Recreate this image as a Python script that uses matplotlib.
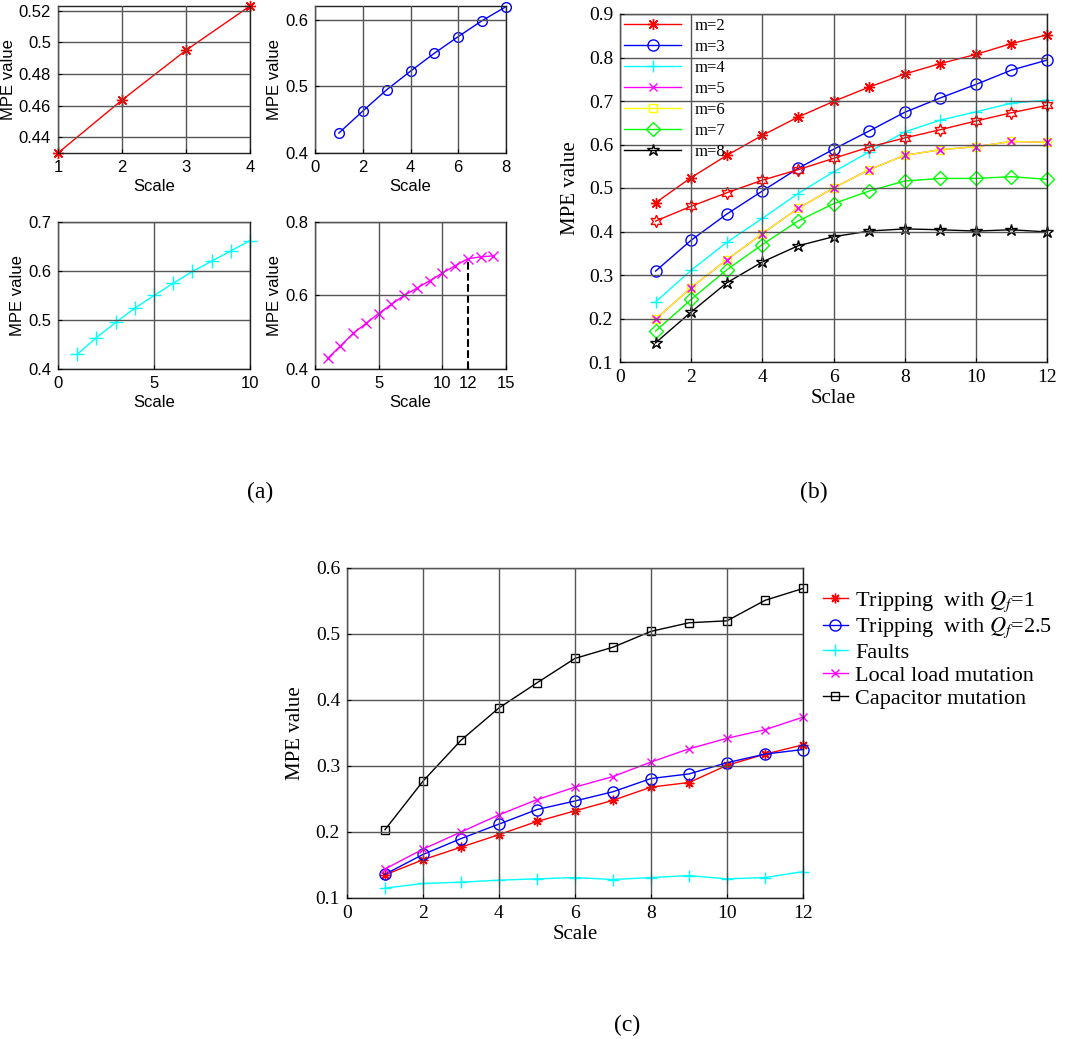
import matplotlib
matplotlib.use("Agg")
import matplotlib.pyplot as plt
from matplotlib.ticker import FuncFormatter

# ---- dados ----
# painel (a)
a1_x = [1, 2, 3, 4]
a1_y = [0.430, 0.4635, 0.495, 0.523]
a2_x = [1, 2, 3, 4, 5, 6, 7, 8]
a2_y = [0.430, 0.463, 0.495, 0.523, 0.550, 0.575, 0.599, 0.620]
a3_x = [1, 2, 3, 4, 5, 6, 7, 8, 9, 10]
a3_y = [0.430, 0.464, 0.495, 0.524, 0.550, 0.575, 0.599, 0.620, 0.641, 0.662]
a4_x = [1, 2, 3, 4, 5, 6, 7, 8, 9, 10, 11, 12, 13, 14]
a4_y = [0.429, 0.463, 0.497, 0.524, 0.551, 0.576, 0.600, 0.620, 0.640,
        0.661, 0.681, 0.700, 0.705, 0.708]
a4_marca = 12

# painel (b)
escala_b = [1, 2, 3, 4, 5, 6, 7, 8, 9, 10, 11, 12]
b_m2 = [0.466, 0.524, 0.575, 0.621, 0.663, 0.699, 0.732, 0.762, 0.786, 0.807, 0.832, 0.852]
b_m3 = [0.309, 0.380, 0.440, 0.493, 0.545, 0.589, 0.631, 0.674, 0.707, 0.738, 0.771, 0.794]
b_m4 = [0.238, 0.311, 0.375, 0.430, 0.487, 0.537, 0.583, 0.629, 0.656, 0.675, 0.695, 0.702]
b_m5 = [0.198, 0.271, 0.335, 0.395, 0.453, 0.500, 0.542, 0.575, 0.588, 0.595, 0.607, 0.605]
b_m6 = [0.198, 0.271, 0.335, 0.395, 0.453, 0.500, 0.542, 0.575, 0.588, 0.595, 0.607, 0.605]
b_m7 = [0.171, 0.244, 0.312, 0.370, 0.424, 0.464, 0.493, 0.516, 0.522, 0.522, 0.526, 0.520]
b_m8 = [0.144, 0.215, 0.282, 0.330, 0.367, 0.388, 0.401, 0.406, 0.404, 0.401, 0.404, 0.399]
b_extra = [0.424, 0.458, 0.489, 0.518, 0.542, 0.568, 0.594, 0.615, 0.634, 0.654, 0.673, 0.690]
rotulos_b = ["m=2", "m=3", "m=4", "m=5", "m=6", "m=7", "m=8"]

# painel (c)
escala_c = [1, 2, 3, 4, 5, 6, 7, 8, 9, 10, 11, 12]
c_trip1 = [0.135, 0.158, 0.177, 0.196, 0.216, 0.232, 0.248, 0.268, 0.275, 0.301, 0.318, 0.332]
c_trip25 = [0.136, 0.166, 0.190, 0.212, 0.234, 0.247, 0.261, 0.281, 0.288, 0.305, 0.318, 0.325]
c_faltas = [0.115, 0.122, 0.124, 0.127, 0.129, 0.131, 0.128, 0.131, 0.134, 0.129, 0.131, 0.140]
c_carga = [0.144, 0.174, 0.200, 0.226, 0.249, 0.268, 0.284, 0.306, 0.326, 0.342, 0.355, 0.374]
c_capac = [0.2035, 0.277, 0.339, 0.388, 0.426, 0.463, 0.480, 0.504, 0.517, 0.520, 0.551, 0.569]
rotulos_c = ["Tripping  with $Q_f$=1", "Tripping  with $Q_f$=2.5", "Faults",
             "Local load mutation", "Capacitor mutation"]

plt.rcParams['mathtext.fontset'] = 'stix'

W, H = 1065, 1039
fig = plt.figure(figsize=(W / 100, H / 100), dpi=100)

SANS = 'Liberation Sans'
SERIF = 'Liberation Serif'
COR_GRADE = '#555555'
VERMELHO, AZUL, CIANO, MAGENTA = '#ff0000', '#0000ff', '#00ffff', '#ff00ff'
AMARELO, VERDE = '#ffff00', '#00ff00'
ASTER = (8, 2, 0)
HEXA = (6, 1, 0)


def eixo(x0, y0, x1, y1):
    return fig.add_axes([x0 / W, 1 - y1 / H, (x1 - x0) / W, (y1 - y0) / H])


def estilo(ax, familia, tam):
    ax.grid(True, color=COR_GRADE, linewidth=1.0)
    ax.set_axisbelow(False)
    ax.tick_params(direction='in', length=3, labelsize=tam, pad=5)
    for lbl in ax.get_xticklabels() + ax.get_yticklabels():
        lbl.set_family(familia)
    for s in ax.spines.values():
        s.set_linewidth(1.0)
        s.set_color('#222222')
    ax.yaxis.set_major_formatter(FuncFormatter(lambda v, p: f"{v:g}"))


# ---- painel (a) ----
ax1 = eixo(58, 6, 250, 153)
ax1.plot(a1_x, a1_y, color=VERMELHO, lw=1, marker=ASTER, ms=8, clip_on=False)
ax1.set_xlim(1, 4)
ax1.set_ylim(0.43, 0.523)
ax1.set_xticks([1, 2, 3, 4])
ax1.set_yticks([0.44, 0.46, 0.48, 0.50, 0.52])

ax2 = eixo(315, 6, 506, 153)
ax2.plot(a2_x, a2_y, color=AZUL, lw=1, marker='o', ms=7, mfc='none', clip_on=False)
ax2.set_xlim(0, 8)
ax2.set_ylim(0.4, 0.621)
ax2.set_xticks([0, 2, 4, 6, 8])
ax2.set_yticks([0.4, 0.5, 0.6])

ax3 = eixo(58, 222, 250, 369)
ax3.plot(a3_x, a3_y, color=CIANO, lw=1, marker='+', ms=10, clip_on=False)
ax3.set_xlim(0, 10)
ax3.set_ylim(0.4, 0.7)
ax3.set_xticks([0, 5, 10])
ax3.set_yticks([0.4, 0.5, 0.6, 0.7])

ax4 = eixo(315, 222, 506, 369)
ax4.plot(a4_x, a4_y, color=MAGENTA, lw=1, marker='x', ms=7, clip_on=False)
ax4.plot([a4_marca, a4_marca], [0.4, a4_y[a4_x.index(a4_marca)]], 'k--', lw=1.5)
ax4.set_xlim(0, 15)
ax4.set_ylim(0.4, 0.8)
ax4.set_xticks([0, 5, 10, 12, 15])
ax4.set_yticks([0.4, 0.6, 0.8])

for ax in (ax1, ax2, ax3, ax4):
    estilo(ax, SANS, 12)
    ax.set_xlabel("Scale", family=SANS, fontsize=12, labelpad=3)
    ax.set_ylabel("MPE value", family=SANS, fontsize=12, labelpad=2)
ax4.get_xgridlines()[3].set_visible(False)

# ---- painel (b) ----
axb = eixo(620, 14, 1047, 362)
axb.plot(escala_b, b_m2, color=VERMELHO, lw=1, marker=ASTER, ms=8, label=rotulos_b[0], clip_on=False)
axb.plot(escala_b, b_m3, color=AZUL, lw=1, marker='o', ms=8, mfc='none', label=rotulos_b[1], clip_on=False)
axb.plot(escala_b, b_m4, color=CIANO, lw=1, marker='+', ms=9, label=rotulos_b[2], clip_on=False)
axb.plot(escala_b, b_m5, color=MAGENTA, lw=1, marker='x', ms=6, label=rotulos_b[3], clip_on=False)
axb.plot(escala_b, b_m6, color=AMARELO, lw=1, marker='s', ms=6, mfc='none', label=rotulos_b[4], clip_on=False)
axb.plot(escala_b, b_extra, color=VERMELHO, lw=1, marker=HEXA, ms=9, mfc='none', clip_on=False)
axb.plot(escala_b, b_m7, color=VERDE, lw=1, marker='D', ms=7, mfc='none', label=rotulos_b[5], clip_on=False)
axb.plot(escala_b, b_m8, color='k', lw=1, marker='*', ms=9, mfc='none', label=rotulos_b[6], clip_on=False)
# m=5 fica por cima dos quadrados amarelos
axb.plot(escala_b, b_m5, color=MAGENTA, lw=0, marker='x', ms=6, clip_on=False)
axb.set_xlim(0, 12)
axb.set_ylim(0.1, 0.9)
axb.set_xticks(range(0, 13, 2))
axb.set_yticks([0.1, 0.2, 0.3, 0.4, 0.5, 0.6, 0.7, 0.8, 0.9])
estilo(axb, SERIF, 14)
axb.set_xlabel("Sclae", family=SERIF, fontsize=15, labelpad=2)
axb.set_ylabel("MPE value", family=SERIF, fontsize=15, labelpad=6)
axb.legend(loc='upper left', bbox_to_anchor=(0.0, 1.0), frameon=False,
           prop={'family': SERIF, 'size': 12}, handlelength=3.4,
           handletextpad=0.8, labelspacing=0.3, borderaxespad=0.15, borderpad=0.1)

# ---- painel (c) ----
axc = eixo(347, 568, 803, 898)
axc.plot(escala_c, c_trip1, color=VERMELHO, lw=1, marker=ASTER, ms=7, label=rotulos_c[0], clip_on=False)
axc.plot(escala_c, c_trip25, color=AZUL, lw=1, marker='o', ms=8, mfc='none', label=rotulos_c[1], clip_on=False)
axc.plot(escala_c, c_faltas, color=CIANO, lw=1, marker='+', ms=8, label=rotulos_c[2], clip_on=False)
axc.plot(escala_c, c_carga, color=MAGENTA, lw=1, marker='x', ms=6, label=rotulos_c[3], clip_on=False)
axc.plot(escala_c, c_capac, color='k', lw=1, marker='s', ms=6, mfc='none', label=rotulos_c[4], clip_on=False)
axc.set_xlim(0, 12)
axc.set_ylim(0.1, 0.6)
axc.set_xticks(range(0, 13, 2))
axc.set_yticks([0.1, 0.2, 0.3, 0.4, 0.5, 0.6])
estilo(axc, SERIF, 14)
axc.set_xlabel("Scale", family=SERIF, fontsize=15, labelpad=2)
axc.set_ylabel("MPE value", family=SERIF, fontsize=15, labelpad=8)
axc.legend(loc='upper left', bbox_to_anchor=(812 / W, 1 - 578 / H),
           bbox_transform=fig.transFigure, frameon=False,
           prop={'family': SERIF, 'size': 16}, handlelength=1.1,
           handletextpad=0.35, labelspacing=0.1, borderpad=0.0)

# ---- legendas dos paineis ----
fig.text(260 / W, 1 - 492 / H, "(a)", ha='center', va='center', family=SERIF, fontsize=17)
fig.text(814 / W, 1 - 492 / H, "(b)", ha='center', va='center', family=SERIF, fontsize=17)
fig.text(627 / W, 1 - 1025 / H, "(c)", ha='center', va='center', family=SERIF, fontsize=17)

fig.savefig("out.png", dpi=100)
